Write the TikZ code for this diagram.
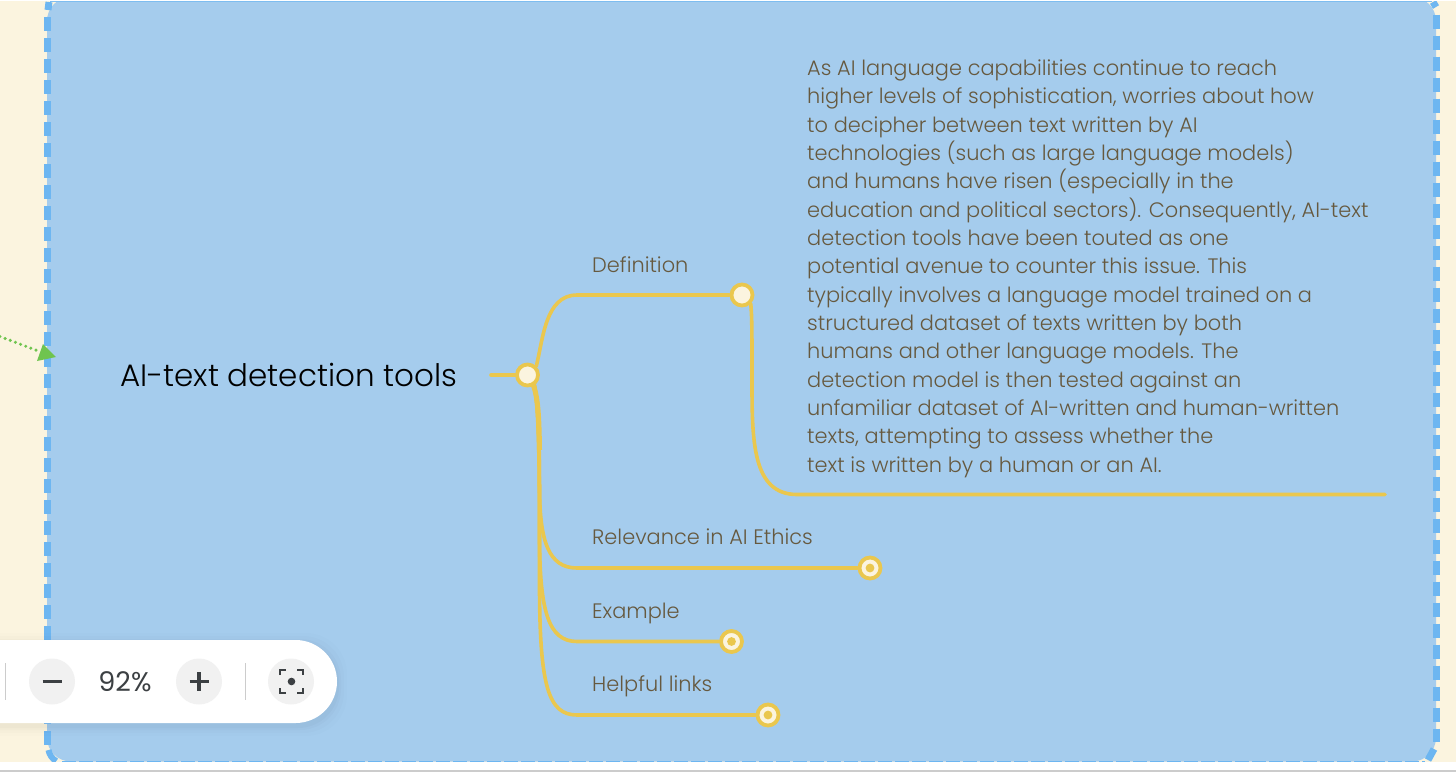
\documentclass[tikz,border=0pt]{standalone}
\usepackage{fontspec}
\setmainfont{Poppins}[UprightFont=* Light,BoldFont=* Regular]
\newfontfamily\regfont{Poppins}
\definecolor{cream}{HTML}{FBF4DF}
\definecolor{panel}{HTML}{A5CCED}
\definecolor{dashblue}{HTML}{6DB6F1}
\definecolor{branch}{HTML}{EAC74E}
\definecolor{labeltext}{HTML}{66593F}
\definecolor{tooldark}{HTML}{3C4043}
\definecolor{toolgrey}{HTML}{F1F1F1}
\definecolor{arrowgreen}{HTML}{6FC44F}
\tikzset{
  x=1pt,y=-1pt,
  branchline/.style={draw=branch,line width=3.6pt,line cap=round},
  topicdot/.style={circle,draw=branch,line width=3.8pt,fill=cream,minimum size=21pt,inner sep=0pt},
  leafdot/.style={circle,draw=branch,line width=3.8pt,fill=cream,minimum size=21pt,inner sep=0pt,
     path picture={\fill[branch] (path picture bounding box.center) circle[radius=4.4pt];}},
  lbl/.style={text=labeltext,font=\fontsize{20.9}{24}\selectfont,anchor=base west,inner sep=0pt},
  toolbtn/.style={circle,fill=toolgrey,minimum size=46pt,inner sep=0pt},
  sideedge/.style={draw=dashblue,line width=7pt,dash pattern=on 14pt off 7pt},
}
\begin{document}
\begin{tikzpicture}
\useasboundingbox (0,0) rectangle (1456,772);
\fill[cream] (0,0) rectangle (1456,772);
% panel
\fill[panel,rounded corners=24pt] (47,-3) rectangle (1436,761.5);
% borders
\draw[sideedge] (47.5,17) -- (47.5,745);
\draw[sideedge] (1436.5,14.5) -- (1436.5,742);
\draw[draw=dashblue,line width=7pt] (49,2) -- (48,10);
\draw[draw=dashblue,line width=7pt] (1433,2) -- (1436,7);
\draw[draw=dashblue,line width=6pt] (48.5,750) arc[start angle=170,end angle=120,radius=16];
\draw[draw=dashblue,line width=7pt] (1434,749) -- (1428,760);
\draw[draw=dashblue,line width=1.4pt,dash pattern=on 14pt off 3pt] (62,761.5) -- (1425,761.5);
\draw[draw=dashblue!70!panel,line width=1pt] (50,1.8) -- (1432,1.8);
% page strips
\fill[white] (0,762.3) rectangle (1456,770);
\fill[black!20] (0,770) rectangle (1456,772);
\fill[white] (0,0) rectangle (1456,1);
% trunk and branches
\node[text=black,font=\fontsize{31}{36}\selectfont,anchor=base west,inner sep=0pt] (title) at (120,386) {AI-text detection tools};
\coordinate (rootstub) at (491,375);
\node[topicdot] (root) at (527.5,375) {};
\node[topicdot] (def) at (742,295) {};
\node[leafdot] (rel) at (870,568) {};
\node[leafdot] (ex) at (731.5,641.5) {};
\node[leafdot] (links) at (768,715) {};
\coordinate (defend) at (1385,494.5);
\draw[branchline] (rootstub) -- (root.west);
\draw[branchline] (root.north east) .. controls (543,340) and (545,295) .. (577,295) -- (def.west);
\draw[branchline] (def.south east) .. controls (752,318) and (752,330) .. (752,380) .. controls (752,440) and (752,494.5) .. (797,494.5) -- (defend);
\draw[branchline,line width=5pt,line cap=butt] (533,384) .. controls (538,398) and (539,415) .. (539.5,450);
\draw[branchline] (534,384) .. controls (540,410) and (539,450) .. (539.5,490) .. controls (540,540) and (548,568) .. (577,568) -- (rel.west);
\draw[branchline] (534,384) .. controls (540,410) and (539.5,480) .. (539.5,540) .. controls (540,610) and (548,641.5) .. (577,641.5) -- (ex.west);
\draw[branchline] (534,384) .. controls (540,410) and (539.5,500) .. (539.5,590) .. controls (540,685) and (548,715) .. (577,715) -- (links.west);
% labels
\node[lbl] (l1) at (592,272.5) {Definition};
\node[lbl] (l2) at (592,544.5) {Relevance in AI Ethics};
\node[lbl] (l3) at (592,618.5) {Example};
\node[lbl] (l4) at (592,691.5) {Helpful links};
\node[text=labeltext,font=\fontsize{20.9}{28.34}\selectfont,align=left,anchor=north west,inner sep=0pt] (body) at (807,59.5) {As AI language capabilities continue to reach\\
higher levels of sophistication, worries about how\\
to decipher between text written by AI\\
technologies (such as large language models)\\
and humans have risen (especially in the\\
education and political sectors). Consequently, AI-text\\
detection tools have been touted as one\\
potential avenue to counter this issue. This\\
typically involves a language model trained on a\\
structured dataset of texts written by both\\
humans and other language models. The\\
detection model is then tested against an\\
unfamiliar dataset of AI-written and human-written\\
texts, attempting to assess whether the\\
text is written by a human or an AI.};
% green arrow
\coordinate (greenstart) at (0,336.5);
\coordinate (greenend) at (41,352);
\draw[arrowgreen,line width=3.4pt,line cap=round,dash pattern=on 0pt off 5.5pt] (greenstart) -- (greenend);
\fill[arrowgreen] (43,344) -- (56,357) -- (37,361) -- cycle;
% toolbar shadow
\foreach \s/\o in {10/0.008,7/0.012,4/0.016,2/0.02}{
  \fill[black,opacity=\o,rounded corners=41pt] (-60,640-\s+3) rectangle (337+\s,723+\s+3);
}
\fill[white,rounded corners=41.5pt] (-60,640) rectangle (337,723);
\draw[black!20,line width=1pt] (5,663) -- (5,700);
\draw[black!20,line width=1pt] (245,663) -- (245,700);
\node[toolbtn] (minus) at (52,681.5) {};
\node[toolbtn] (plus) at (199,681.5) {};
\node[toolbtn] (focus) at (291,681.5) {};
\draw[tooldark,line width=3.2pt] (42.5,681.5) -- (61.5,681.5);
\draw[tooldark,line width=3.2pt] (189.5,681.5) -- (208.5,681.5) (199,672) -- (199,691);
\node[text=tooldark,font=\regfont\fontsize{27}{30}\selectfont,inner sep=0pt] (zoomval) at (125,681.5) {92\%};
\fill[tooldark] (291.5,681.5) circle[radius=3.8pt];
\draw[tooldark,line width=2pt] (280,675) -- (280,669.5) -- (286,669.5) (297,669.5) -- (303,669.5) -- (303,675) (303,688) -- (303,693) -- (297,693) (286,693) -- (280,693) -- (280,688);
\end{tikzpicture}
\end{document}
